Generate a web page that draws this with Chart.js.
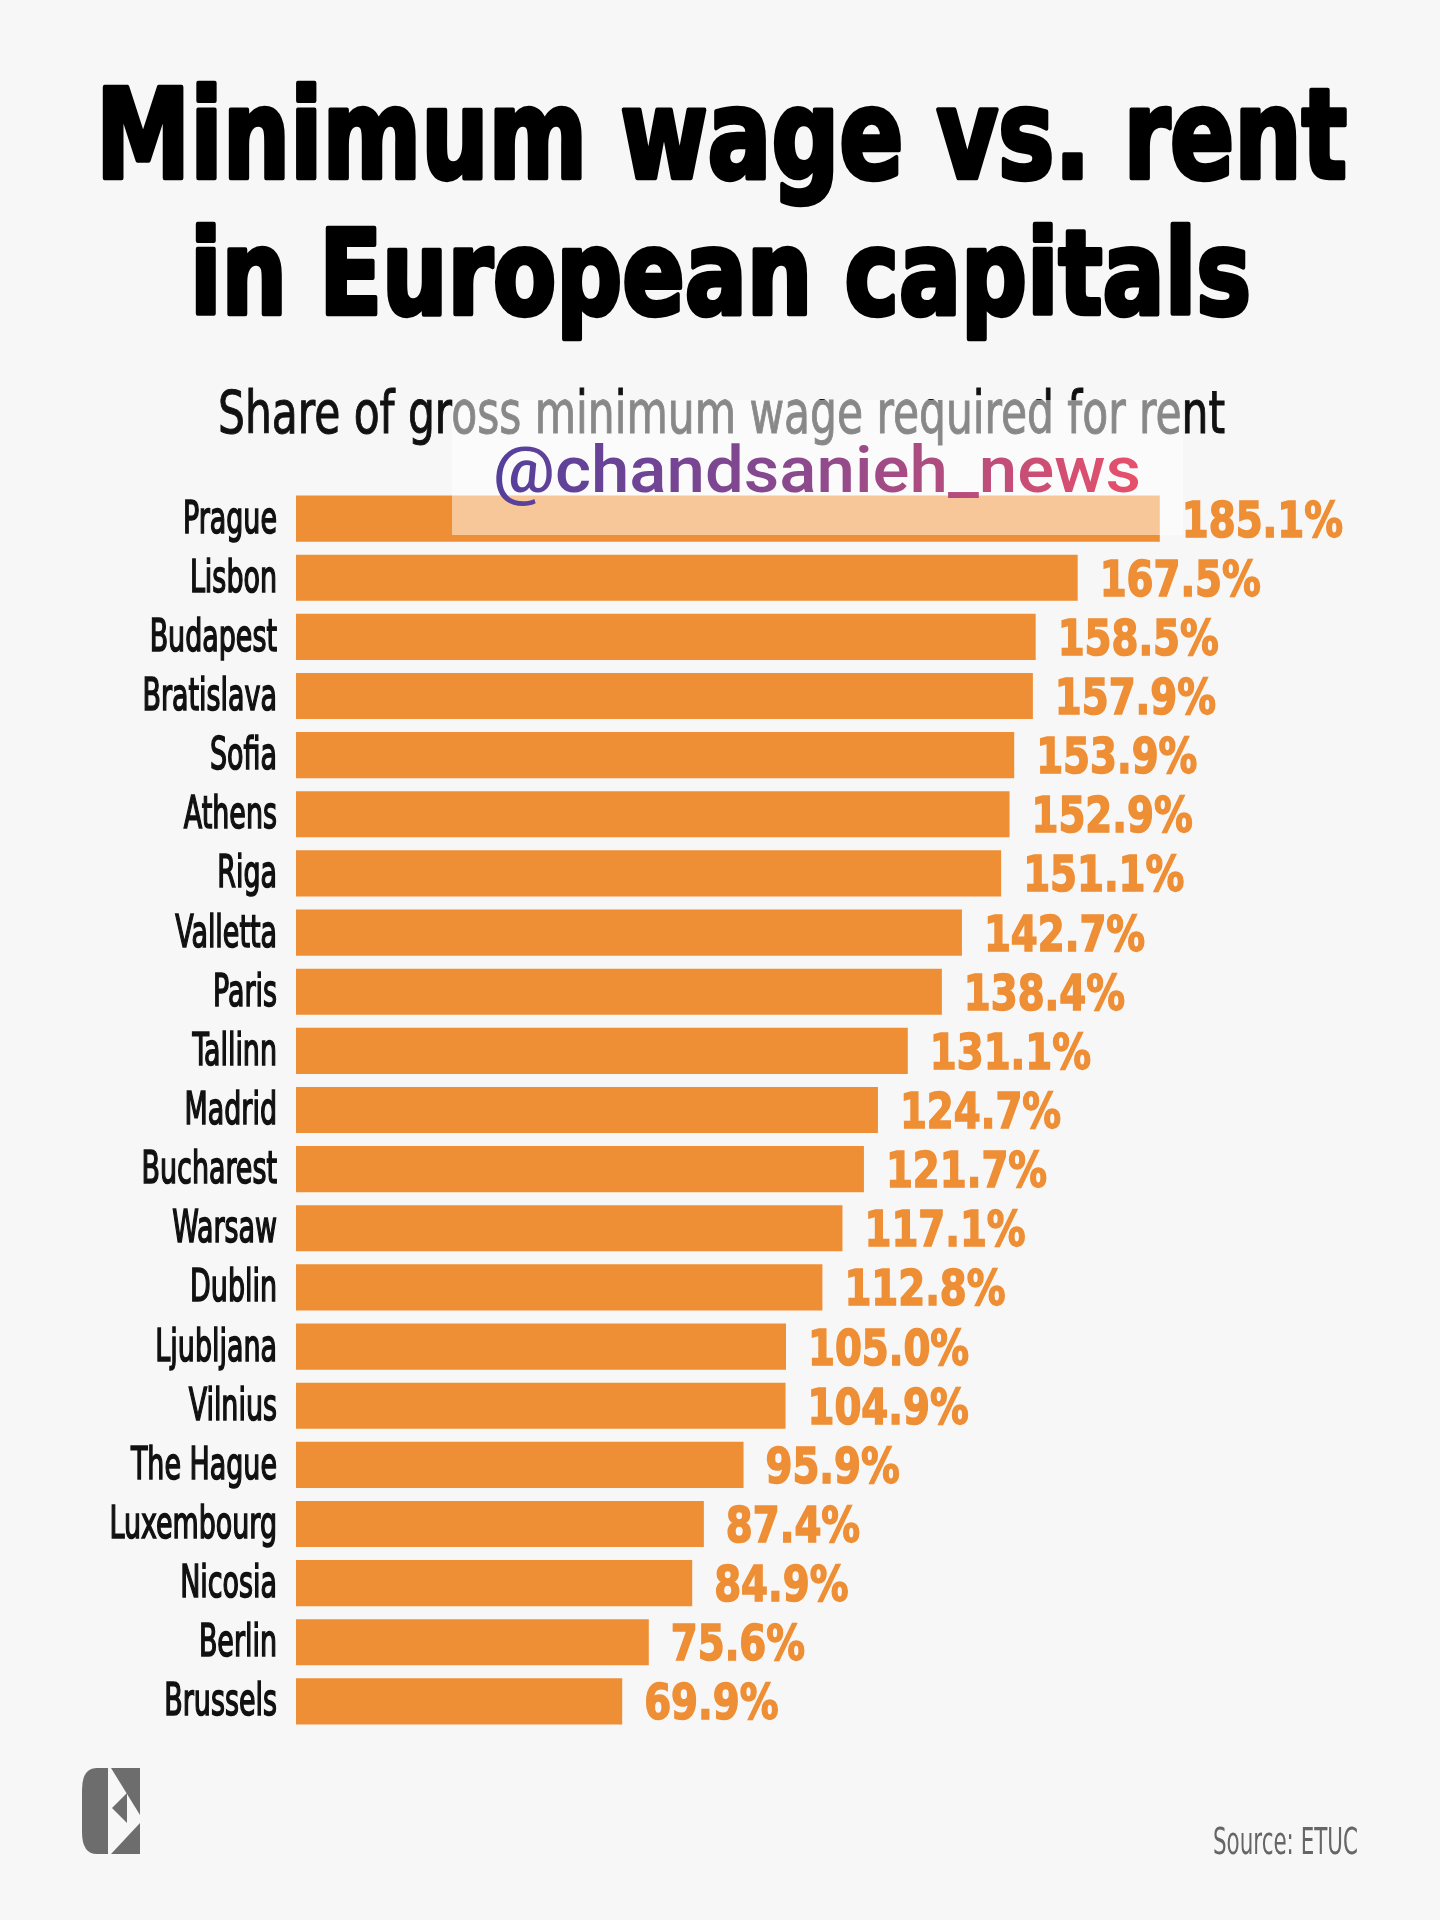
<!DOCTYPE html>
<html>
<head>
<meta charset="utf-8">
<title>Minimum wage vs. rent in European capitals</title>
<script src="https://cdn.jsdelivr.net/npm/chart.js@4.4.1/dist/chart.umd.min.js"></script>
<style>
  html, body { margin: 0; padding: 0; background: #f7f7f7; }
  #page { position: relative; width: 1440px; height: 1920px; overflow: hidden; background: #f7f7f7; }
  #chart { position: absolute; left: 0; top: 0; }
  #overlay { position: absolute; left: 0; top: 0; pointer-events: none; }
</style>
</head>
<body>
<div id="page">
  <canvas id="chart" width="1440" height="1920"></canvas>
  <svg id="overlay" width="1440" height="1920" viewBox="0 0 1440 1920">
    <defs>
      <linearGradient id="wm" x1="493" y1="0" x2="1141" y2="0" gradientUnits="userSpaceOnUse">
        <stop offset="0" stop-color="#543f9c"/>
        <stop offset="0.5" stop-color="#8f4a8c"/>
        <stop offset="1" stop-color="#e8506a"/>
      </linearGradient>
    </defs>
    <!-- title -->
    <g font-family="'DejaVu Sans Condensed', 'DejaVu Sans', sans-serif" font-weight="bold" fill="#000" stroke="#000" stroke-width="4.5" stroke-linejoin="round">
      <text x="96" y="178" font-size="124" textLength="1251" lengthAdjust="spacingAndGlyphs">Minimum wage vs. rent</text>
      <text x="190" y="314" font-size="118" textLength="1061" lengthAdjust="spacingAndGlyphs">in European capitals</text>
    </g>
    <!-- subtitle -->
    <text x="218" y="433" font-family="'DejaVu Sans Condensed', 'DejaVu Sans', sans-serif" font-size="59" fill="#111" stroke="#111" stroke-width="1" textLength="1007" lengthAdjust="spacingAndGlyphs">Share of gross minimum wage required for rent</text>
    <!-- watermark box + text -->
    <rect x="452" y="400" width="731" height="135" fill="#ffffff" fill-opacity="0.5"/>
    <text x="493" y="492" font-family="Roboto, 'Noto Sans', sans-serif" font-weight="500" font-size="64" fill="url(#wm)" textLength="648" lengthAdjust="spacingAndGlyphs">@chandsanieh_news</text>
    <!-- logo -->
    <g fill="#6d6d6d">
      <path d="M108 1768 L97 1768 Q82 1768 82 1790 L82 1832 Q82 1854 97 1854 L108 1854 Z"/>
      <polygon points="111,1768 140,1768 140,1815"/>
      <polygon points="112,1808 127,1793 127,1823"/>
      <polygon points="111,1854 140,1854 140,1823"/>
    </g>
    <!-- source -->
    <text x="1213" y="1854" font-family="'DejaVu Sans Condensed', 'DejaVu Sans', sans-serif" font-size="37" fill="#666" textLength="145" lengthAdjust="spacingAndGlyphs">Source: ETUC</text>
  </svg>
</div>

<script>
// data
const cities = ['Prague', 'Lisbon', 'Budapest', 'Bratislava', 'Sofia', 'Athens', 'Riga',
  'Valletta', 'Paris', 'Tallinn', 'Madrid', 'Bucharest', 'Warsaw', 'Dublin', 'Ljubljana',
  'Vilnius', 'The Hague', 'Luxembourg', 'Nicosia', 'Berlin', 'Brussels'];
const rentShare = [185.1, 167.5, 158.5, 157.9, 153.9, 152.9, 151.1, 142.7, 138.4, 131.1,
  124.7, 121.7, 117.1, 112.8, 105.0, 104.9, 95.9, 87.4, 84.9, 75.6, 69.9];
const axisMin = 0;
const axisMax = 240;

const ORANGE = '#ee8e35';

// draws city names (left of bars) and percentage values (right of bar ends)
const barLabels = {
  id: 'barLabels',
  afterDatasetsDraw(chart) {
    const { ctx, chartArea } = chart;
    const meta = chart.getDatasetMeta(0);
    meta.data.forEach((bar, i) => {
      // city name, condensed
      ctx.save();
      ctx.translate(chartArea.left - 19, bar.y + 14);
      ctx.scale(0.68, 1);
      ctx.font = '44px "DejaVu Sans Condensed", "DejaVu Sans", sans-serif';
      ctx.textAlign = 'right';
      ctx.textBaseline = 'alphabetic';
      ctx.fillStyle = '#111';
      ctx.strokeStyle = '#111';
      ctx.lineWidth = 1.6;
      ctx.fillText(chart.data.labels[i], 0, 0);
      ctx.strokeText(chart.data.labels[i], 0, 0);
      ctx.restore();

      // value
      const v = chart.data.datasets[0].data[i];
      ctx.save();
      ctx.translate(bar.x + 22, bar.y + 18);
      ctx.scale(0.86, 1);
      ctx.font = 'bold 50px "DejaVu Sans Condensed", "DejaVu Sans", sans-serif';
      ctx.textAlign = 'left';
      ctx.textBaseline = 'alphabetic';
      ctx.fillStyle = ORANGE;
      ctx.strokeStyle = ORANGE;
      ctx.lineWidth = 1.5;
      ctx.fillText(v.toFixed(1) + '%', 0, 0);
      ctx.strokeText(v.toFixed(1) + '%', 0, 0);
      ctx.restore();
    });
  }
};

new Chart(document.getElementById('chart').getContext('2d'), {
  type: 'bar',
  data: {
    labels: cities,
    datasets: [{
      data: rentShare,
      backgroundColor: ORANGE,
      borderWidth: 0,
      barPercentage: 0.78,
      categoryPercentage: 1.0
    }]
  },
  options: {
    indexAxis: 'y',
    responsive: false,
    devicePixelRatio: 1,
    animation: false,
    layout: { padding: { left: 296, right: 24, top: 489, bottom: 189 } },
    scales: {
      x: { min: axisMin, max: axisMax, display: false },
      y: { display: false }
    },
    plugins: {
      legend: { display: false },
      tooltip: { enabled: false },
      title: { display: false }
    }
  },
  plugins: [barLabels]
});
</script>
</body>
</html>
